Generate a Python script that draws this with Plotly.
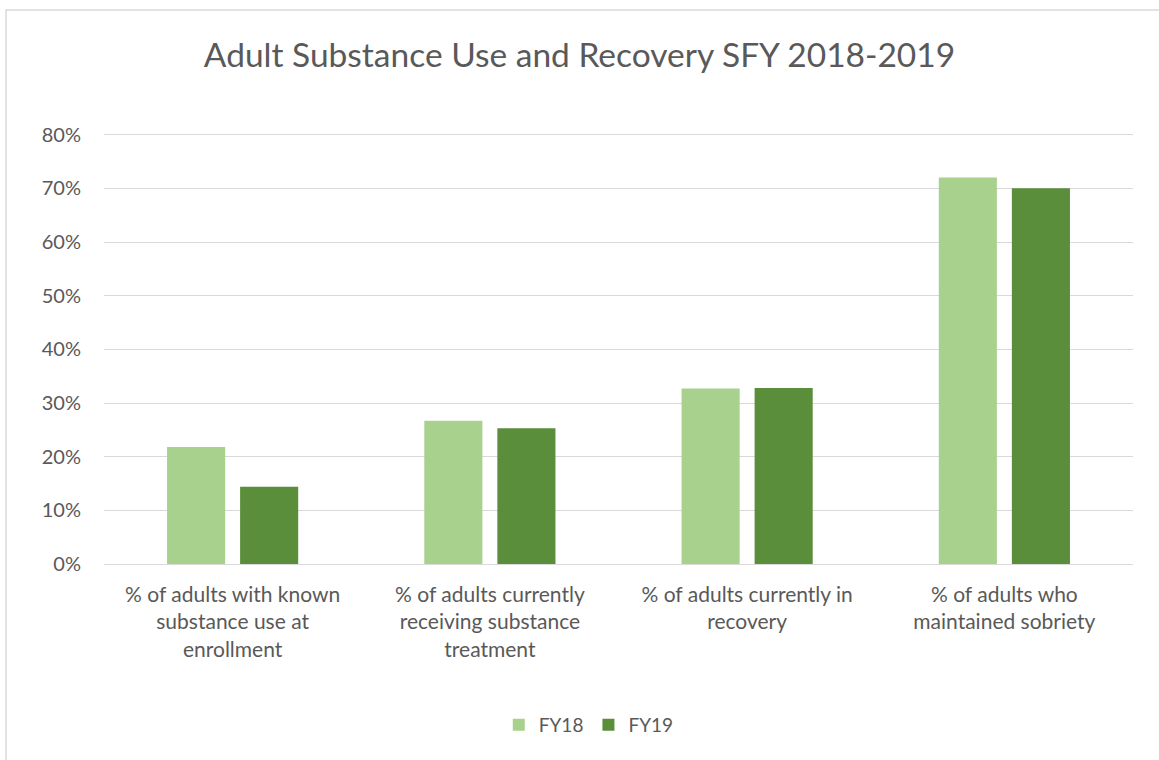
import plotly.graph_objects as go

categories = [
    "% of adults with known<br>substance use at<br>enrollment",
    "% of adults currently<br>receiving substance<br>treatment",
    "% of adults currently in<br>recovery",
    "% of adults who<br>maintained sobriety",
]
fy18 = [0.218, 0.267, 0.327, 0.720]
fy19 = [0.144, 0.253, 0.328, 0.700]
tick_vals = [0, 0.1, 0.2, 0.3, 0.4, 0.5, 0.6, 0.7, 0.8]
tick_text = ["0%", "10%", "20%", "30%", "40%", "50%", "60%", "70%", "80%"]

W, H = 1159, 760
ml, mr, mt, mb = 104, 26, 132, 196

fig = go.Figure()
fig.add_trace(go.Bar(name="FY18", x=categories, y=fy18, marker_color="#A9D18E",
                     marker_line_width=0))
fig.add_trace(go.Bar(name="FY19", x=categories, y=fy19, marker_color="#5A8E3A",
                     marker_line_width=0))

font_family = "Lato, 'Open Sans', sans-serif"
fig.update_layout(
    width=W, height=H,
    margin=dict(l=ml, r=mr, t=mt, b=mb),
    paper_bgcolor="white", plot_bgcolor="white",
    barmode="group", bargap=0.432, bargroupgap=0.205,
    font=dict(family=font_family, color="#595959", size=21),
    title=dict(text="Adult Substance Use and Recovery SFY 2018-2019",
               x=0.5, xanchor="center", y=1 - 55 / H, yanchor="middle",
               font=dict(size=33.5, color="#595959", family=font_family)),
    xaxis=dict(showgrid=False, showline=False, ticks="",
               ticklabelstandoff=16,
               tickfont=dict(size=21, color="#595959")),
    yaxis=dict(range=[0, 0.805], tickvals=tick_vals, ticktext=tick_text,
               showgrid=True, gridcolor="#D9D9D9", gridwidth=1.3,
               zeroline=True, zerolinecolor="#D9D9D9", zerolinewidth=1.3,
               showline=False, ticks="", ticklen=0, ticklabelstandoff=22,
               tickfont=dict(size=20, color="#595959")),
    legend=dict(orientation="h", xref="container", yref="container",
                x=0.508, xanchor="center", y=1 - 725 / H, yanchor="middle",
                font=dict(size=19, color="#595959"), itemwidth=30,
                traceorder="normal"),
)

# outer chart border (light grey frame)
pw = W - ml - mr
ph = H - mt - mb
fig.add_shape(type="rect", xref="paper", yref="paper",
              x0=(6 - ml) / pw, x1=(W + 5 - ml) / pw,
              y0=-(mb + 5) / ph, y1=(H - 10 - mb) / ph,
              line=dict(color="#D9D9D9", width=1.5), fillcolor="rgba(0,0,0,0)",
              layer="below")

fig.write_html("out.html",
               config={"displayModeBar": False},
               post_script="document.body.style.margin='0px';")
